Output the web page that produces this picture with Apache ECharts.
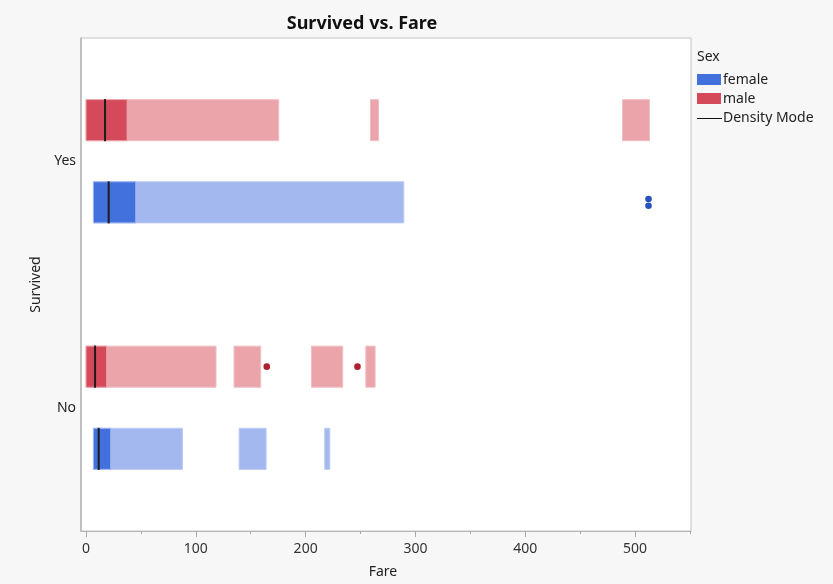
<!DOCTYPE html>
<html>
<head>
<meta charset="utf-8">
<script src="https://cdn.jsdelivr.net/npm/echarts@6/dist/echarts.min.js"></script>
<style>
  html, body { margin: 0; padding: 0; background: #f7f7f7; }
  #chart { width: 833px; height: 584px; }
</style>
</head>
<body>
<div id="chart"></div>
<script>
// Survived groups on the category axis (bottom to top)
const survivedCategories = ['No', 'Yes'];
const sexNames = ['female', 'male'];

// Fare spans covered by the lower-density part of each group
const femaleNoSpans = [[6.7, 87.8], [139.4, 164.0], [217.4, 222.0]];
const femaleYesSpans = [[6.7, 289.4]];
const maleNoSpans = [[0, 118.4], [134.8, 159.1], [205.3, 233.8], [254.8, 263.3]];
const maleYesSpans = [[0, 175.5], [259.0, 266.3], [488.6, 513.2]];

// High-density core span of each group
const femaleNoCore = [6.7, 22.5];
const femaleYesCore = [6.7, 45.3];
const maleNoCore = [0, 18.8];
const maleYesCore = [0, 37.4];

// Density mode of each group
const femaleNoMode = 11.5;
const femaleYesMode = 20.6;
const maleNoMode = 8.2;
const maleYesMode = 17.3;

// Isolated fares drawn as points
const femaleYesOutliers = [512.3, 512.3];
const maleNoOutliers = [164.6, 247.2];

// Axis ticks
const fareTickLabels = [0, 100, 200, 300, 400, 500];
const fareMinorTicks = [50, 150, 250, 350, 450, 550];

const COLORS = {
  female: { core: '#4270dc', light: '#a3b8ee', edge: '#bccbf3', dot: '#2a52be', swatch: '#4270dc' },
  male:   { core: '#d44a5a', light: '#eaa4aa', edge: '#f0bfc3', dot: '#b01f30', swatch: '#d44a5a' }
};
// row: -1 = upper lane (male), +1 = lower lane (female)
const ROW = { female: 1, male: -1 };
const FONT = 'Noto Sans';
const FS = 14;

function buildBarData(sex) {
  const groups = sex === 'female'
    ? [[0, femaleNoSpans, femaleNoCore], [1, femaleYesSpans, femaleYesCore]]
    : [[0, maleNoSpans, maleNoCore], [1, maleYesSpans, maleYesCore]];
  const out = [];
  groups.forEach(([cat, spans, core]) => {
    spans.forEach(s => out.push([cat, s[0], s[1], 0]));
    out.push([cat, core[0], core[1], 1]);
  });
  return out;
}

function laneY(api, cat, sex) {
  const band = api.size([0, 1])[1];
  const c = api.coord([0, cat]);
  return { cy: c[1] + ROW[sex] * band / 6, h: band / 6 };
}

function barSeries(sex) {
  return {
    name: sex,
    type: 'custom',
    data: buildBarData(sex),
    encode: { x: [1, 2], y: 0 },
    renderItem: function (params, api) {
      const cat = api.value(0);
      const p0 = api.coord([api.value(1), cat]);
      const p1 = api.coord([api.value(2), cat]);
      const lane = laneY(api, cat, sex);
      const isCore = api.value(3) === 1;
      return {
        type: 'rect',
        z2: isCore ? 2 : 1,
        shape: { x: p0[0], y: lane.cy - lane.h / 2, width: p1[0] - p0[0], height: lane.h },
        style: {
          fill: isCore ? COLORS[sex].core : COLORS[sex].light,
          stroke: isCore ? COLORS[sex].light : COLORS[sex].edge,
          lineWidth: 1
        }
      };
    },
    z: 2
  };
}

const modeData = [
  [0, femaleNoMode, 'female'], [1, femaleYesMode, 'female'],
  [0, maleNoMode, 'male'], [1, maleYesMode, 'male']
];

function outlierData(values, cat, sex) {
  // repeated values are spread slightly apart so each point stays visible
  const counts = {};
  values.forEach(v => counts[v] = (counts[v] || 0) + 1);
  const seen = {};
  return values.map(v => {
    const k = seen[v] = (seen[v] || 0) + 1;
    const n = counts[v];
    const spread = n > 1 ? (k - 1 - (n - 1) / 2) : 0;
    return [cat, v, sex, spread];
  });
}

const outlierPoints = [].concat(
  outlierData(femaleYesOutliers, 1, 'female'),
  outlierData(maleNoOutliers, 0, 'male')
);

function legendText(text, y) {
  return {
    type: 'text', x: 723, y: y,
    style: { text: text, fontFamily: FONT, fontSize: FS, fill: '#222', verticalAlign: 'middle' }
  };
}

const option = {
  backgroundColor: '#f7f7f7',
  animation: false,
  title: {
    text: 'Survived vs. Fare',
    left: 357, top: 10, textAlign: 'center',
    textStyle: { fontFamily: FONT, fontSize: 18, fontWeight: 'bold', color: '#111' }
  },
  grid: {
    left: 81, top: 38, width: 610, height: 494,
    show: true, backgroundColor: '#ffffff', borderColor: '#c4c4c4', borderWidth: 1
  },
  xAxis: [{
    type: 'value', min: -4.6, max: 551,
    name: 'Fare', nameLocation: 'middle', nameGap: 34,
    nameTextStyle: { fontFamily: FONT, fontSize: FS, color: '#222', padding: [0, 0, 0, -6] },
    splitLine: { show: false },
    axisLine: { show: true, onZero: false, lineStyle: { color: '#b8b8b8' } },
    axisTick: { show: true, length: 6, lineStyle: { color: '#a8a8a8' }, customValues: fareTickLabels },
    axisLabel: { fontFamily: FONT, fontSize: FS, color: '#333', margin: 11, customValues: fareTickLabels }
  }, {
    type: 'value', min: -4.6, max: 551, position: 'bottom',
    splitLine: { show: false },
    axisLine: { show: false },
    axisTick: { show: true, length: 3, lineStyle: { color: '#a8a8a8' }, customValues: fareMinorTicks },
    axisLabel: { show: false }
  }],
  yAxis: {
    type: 'category', data: survivedCategories,
    name: 'Survived', nameLocation: 'middle', nameGap: 33, nameRotate: 90,
    nameTextStyle: { fontFamily: FONT, fontSize: FS, color: '#222' },
    axisLine: { show: true, onZero: false, lineStyle: { color: '#b4b4b4', width: 1.5 } },
    axisTick: { show: false },
    axisLabel: { fontFamily: FONT, fontSize: FS, color: '#222', margin: 5, padding: [3, 0, 0, 0] },
    splitLine: { show: false }
  },
  series: [
    barSeries('female'),
    barSeries('male'),
    {
      name: 'Density Mode',
      type: 'custom',
      data: modeData,
      encode: { x: 1, y: 0 },
      z: 4,
      renderItem: function (params, api) {
        const cat = api.value(0);
        const sex = modeData[params.dataIndex][2];
        const p = api.coord([api.value(1), cat]);
        const lane = laneY(api, cat, sex);
        return {
          type: 'line',
          shape: { x1: p[0], y1: lane.cy - lane.h / 2 - 0.5, x2: p[0], y2: lane.cy + lane.h / 2 + 0.5 },
          style: { stroke: '#1c1c1c', lineWidth: 2 }
        };
      }
    },
    {
      name: 'points',
      type: 'custom',
      data: outlierPoints,
      encode: { x: 1, y: 0 },
      z: 5,
      renderItem: function (params, api) {
        const cat = api.value(0);
        const item = outlierPoints[params.dataIndex];
        const sex = item[2];
        const p = api.coord([api.value(1), cat]);
        const lane = laneY(api, cat, sex);
        return {
          type: 'circle',
          shape: { cx: p[0], cy: lane.cy + item[3] * 6.8, r: 3.3 },
          style: { fill: COLORS[sex].dot }
        };
      }
    }
  ],
  graphic: [
    { type: 'text', x: 697, y: 57, style: { text: 'Sex', fontFamily: FONT, fontSize: FS, fill: '#222', verticalAlign: 'middle' } },
    { type: 'rect', x: 697, y: 74, shape: { width: 24, height: 11 }, style: { fill: COLORS.female.swatch } },
    legendText(sexNames[0], 80),
    { type: 'rect', x: 697, y: 93, shape: { width: 24, height: 11 }, style: { fill: COLORS.male.swatch } },
    legendText(sexNames[1], 99),
    { type: 'line', x: 697, y: 118.5, shape: { x1: 0, y1: 0, x2: 25, y2: 0 }, style: { stroke: '#111', lineWidth: 1 } },
    legendText('Density Mode', 118)
  ]
};

const chart = echarts.init(document.getElementById('chart'), null, { renderer: 'canvas' });
chart.setOption(option);
</script>
</body>
</html>
